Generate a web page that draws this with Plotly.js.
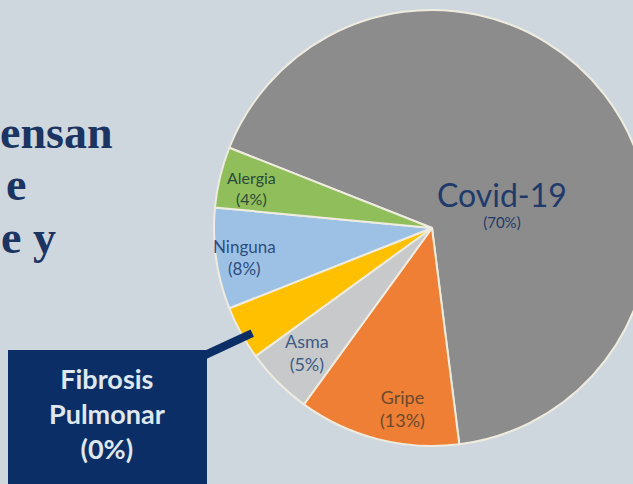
<!DOCTYPE html>
<html><head><meta charset="utf-8">
<script src="https://cdn.plot.ly/plotly-3.0.1.min.js"></script>
<style>
html,body{margin:0;padding:0;background:#cfd7de;overflow:hidden;width:633px;height:484px}
#chart{width:700px;height:484px}
</style>
</head><body><div id="chart"></div>
<script>
// ---- data ----
const labels = ['Covid-19', 'Gripe', 'Asma', 'Fibrosis Pulmonar', 'Ninguna', 'Alergia'];
const shownPct = [70, 13, 5, 0, 8, 4];          // percentages printed in the chart
const sliceValues = [67, 12, 5, 4, 7.5, 4.5];   // slice sizes as drawn
const headingLines = ['ensan', 'e', 'e y'];     // visible part of the cropped heading

// ---- styles / layout ----
const W = 700, H = 484;
const CX = 432, CY = 228, R = 218;
const ROT = 291.6;
const colors = ['#8c8c8c', '#ee7f34', '#c7c9ca', '#ffc000', '#9dc1e5', '#8fbe5a'];
const labelStyle = [
  {size: 32, pctSize: 15, color: '#1f3a6b', rf: 0.34, nudge: 18},
  {size: 18, pctSize: 18, color: '#6b4a2e', rf: 0.84, nudge: -5},
  {size: 18, pctSize: 18, color: '#3d5c86', rf: 0.81, nudge: 0},
  null,
  {size: 17, pctSize: 17, color: '#2d4e7e', rf: 0.87, nudge: -1},
  {size: 16, pctSize: 16, color: '#2b4a3c', rf: 0.85, nudge: -1}
];
const navy = '#0c2e66';
const px = x => x / W, py = y => 1 - y / H;

const total = sliceValues.reduce((a, b) => a + b, 0);
const annotations = [];
let cum = 0;
const mids = sliceValues.map(v => { const m = ROT + 360 * (cum + v / 2) / total; cum += v; return m; });

labels.forEach((lab, i) => {
  const st = labelStyle[i];
  if (!st) return;
  const a = (mids[i] + st.nudge) * Math.PI / 180;
  const x = CX + st.rf * R * Math.sin(a);
  const y = CY - st.rf * R * Math.cos(a);
  const base = Math.min(st.size, st.pctSize + 1);
  annotations.push({
    x: px(x), y: py(y), xref: 'paper', yref: 'paper', showarrow: false,
    text: '<span style="font-size:' + st.size + 'px">' + lab + '</span><br>' +
          '<span style="font-size:' + st.pctSize + 'px">(' + shownPct[i] + '%)</span>',
    font: {family: 'Lato, sans-serif', size: base, color: st.color},
    align: 'center', xanchor: 'center', yanchor: 'middle'
  });
});

// Fibrosis call-out box text
annotations.push({
  x: px(107), y: py(413), xref: 'paper', yref: 'paper', showarrow: false,
  text: labels[3].split(' ').join('<br>') + '<br>(' + shownPct[3] + '%)',
  font: {family: 'Lato, sans-serif', size: 27, color: '#dfe7f1', weight: 'bold'},
  align: 'center', xanchor: 'center', yanchor: 'middle'
});

// cropped heading on the left
const headingX = [-2, 4, -1];
const headingY = [133, 184, 237];
headingLines.forEach((t, i) => {
  annotations.push({
    x: px(headingX[i]), y: py(headingY[i]), xref: 'paper', yref: 'paper', showarrow: false,
    text: t, font: {family: '"Liberation Serif", serif', size: 46, color: '#1b3461', weight: 'bold'},
    xanchor: 'left', yanchor: 'middle'
  });
});

// connector end point inside the Fibrosis slice
const fa = (mids[3] - 1.5) * Math.PI / 180;
const fx = CX + 0.955 * R * Math.sin(fa), fy = CY - 0.955 * R * Math.cos(fa);

const shapes = [
  {type: 'rect', xref: 'paper', yref: 'paper', x0: px(8), x1: px(207), y0: -0.05, y1: py(350),
   fillcolor: navy, line: {width: 0}, layer: 'above'},
  {type: 'line', xref: 'paper', yref: 'paper', x0: px(203), y0: py(356), x1: px(fx), y1: py(fy),
   line: {color: navy, width: 8}, layer: 'above'}
];

const trace = {
  type: 'pie', labels: labels, values: sliceValues, sort: false, direction: 'clockwise',
  rotation: ROT, textinfo: 'none', hoverinfo: 'label',
  marker: {colors: colors, line: {color: '#efecdf', width: 2}},
  domain: {x: [px(CX - R), px(CX + R)], y: [py(CY + R), py(CY - R)]},
  showlegend: false
};

Plotly.newPlot('chart', [trace], {
  width: W, height: H, margin: {l: 0, r: 0, t: 0, b: 0},
  paper_bgcolor: '#cfd7de', plot_bgcolor: '#cfd7de',
  showlegend: false, annotations: annotations, shapes: shapes
}, {displayModeBar: false, staticPlot: true});
</script>
</body></html>
